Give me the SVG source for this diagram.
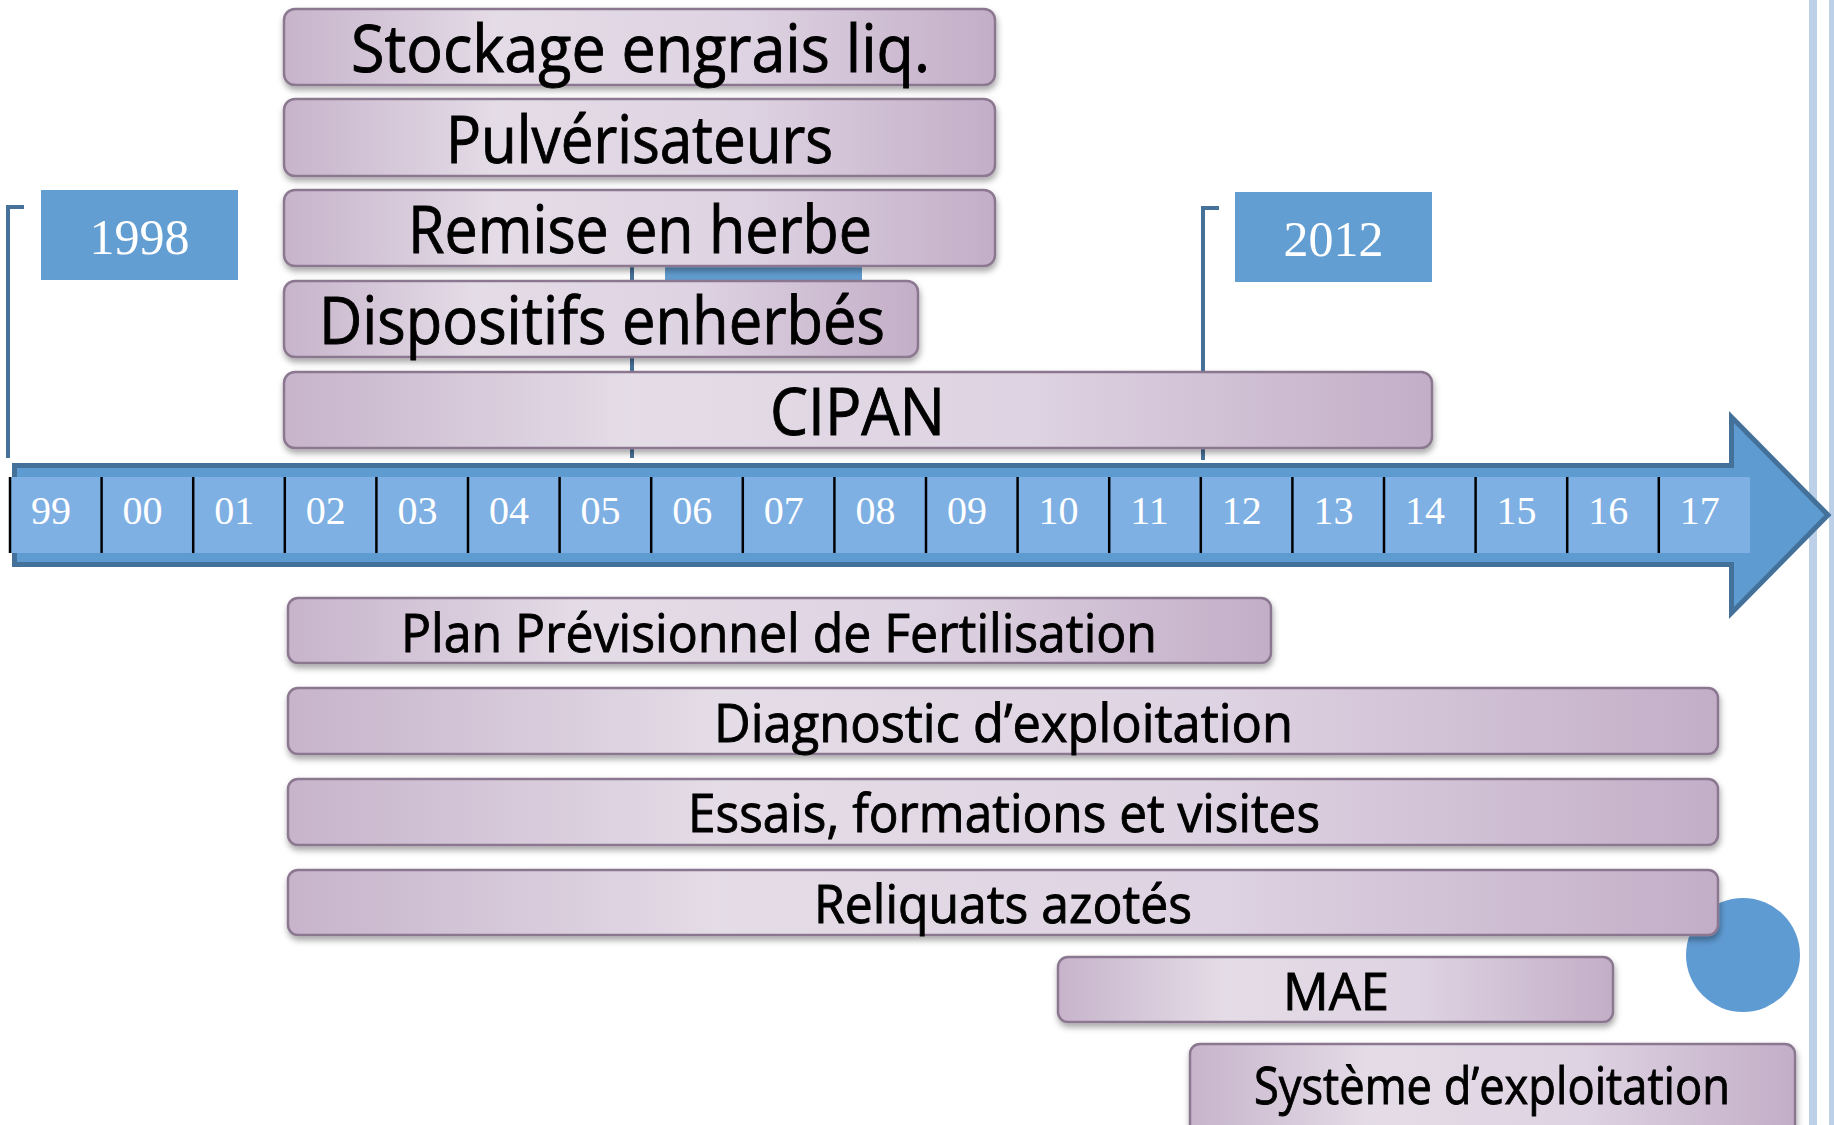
<svg xmlns="http://www.w3.org/2000/svg" width="1834" height="1125" viewBox="0 0 1834 1125">
<style>
.box{fill:url(#pg);stroke:#8B7890;stroke-width:2.5;filter:url(#sh)}
.lbl{font-family:"Open Sans","Noto Sans","Liberation Sans",sans-serif;fill:#000;stroke:#000;stroke-width:0.9;text-anchor:middle}
.yr{font-family:"Liberation Serif","DejaVu Serif",serif;fill:#fff;font-size:40px}
.big{font-family:"Liberation Serif","DejaVu Serif",serif;fill:#fff;font-size:50px;text-anchor:middle}
.brk{fill:none;stroke:#46729A;stroke-width:4}
.sep{stroke:#000;stroke-width:2.5}
.datebox{fill:#629ED2}
</style>
<defs>
<linearGradient id="pg" x1="0" y1="0" x2="1" y2="0">
<stop offset="0" stop-color="#C7B4CB"/>
<stop offset="0.3" stop-color="#E4DCE7"/>
<stop offset="0.65" stop-color="#DED3E2"/>
<stop offset="1" stop-color="#C3AEC7"/>
</linearGradient>
<filter id="sh" x="-5%" y="-20%" width="110%" height="150%">
<feDropShadow dx="1" dy="4" stdDeviation="3" flood-color="#000" flood-opacity="0.35"/>
</filter>
</defs>
<rect width="1834" height="1125" fill="#fff"/>
<g id="border">
<rect x="1809" y="0" width="8" height="1125" fill="#BCD0E8"/>
<rect x="1829" y="0" width="5" height="1125" fill="#BCD0E8"/>
</g>
<g id="connectors">
<path class="brk" d="M24,207 H8 V458"/>
<path class="brk" d="M1219,208 H1203 V460"/>
<path class="brk" d="M632,205 V458"/>
</g>
<g id="date-1998">
<rect class="datebox" x="41" y="190" width="197" height="90"/>
<text class="big" x="139.5" y="254">1998</text>
</g>
<g id="date-hidden">
<rect class="datebox" x="665" y="190" width="197" height="90"/>
</g>
<g id="date-2012">
<rect class="datebox" x="1235" y="192" width="197" height="90"/>
<text class="big" x="1333.5" y="256">2012</text>
</g>
<g id="circle">
<circle cx="1743" cy="955" r="57" fill="#5F9BD3"/>
</g>
<g id="timeline">
<polygon points="14.5,465.5 1731.5,465.5 1731.5,417 1828,515 1731.5,613 1731.5,564.5 14.5,564.5" fill="#5E9BD0" stroke="#44719A" stroke-width="5" stroke-linejoin="miter"/>
<rect x="10" y="477" width="1740" height="76" fill="#7EB0E4"/>
<g class="sep">
<line x1="10" y1="477" x2="10" y2="553"/><line x1="101.6" y1="477" x2="101.6" y2="553"/><line x1="193.2" y1="477" x2="193.2" y2="553"/><line x1="284.8" y1="477" x2="284.8" y2="553"/><line x1="376.4" y1="477" x2="376.4" y2="553"/><line x1="468" y1="477" x2="468" y2="553"/><line x1="559.6" y1="477" x2="559.6" y2="553"/><line x1="651.2" y1="477" x2="651.2" y2="553"/><line x1="742.8" y1="477" x2="742.8" y2="553"/><line x1="834.4" y1="477" x2="834.4" y2="553"/><line x1="926" y1="477" x2="926" y2="553"/><line x1="1017.6" y1="477" x2="1017.6" y2="553"/><line x1="1109.2" y1="477" x2="1109.2" y2="553"/><line x1="1200.8" y1="477" x2="1200.8" y2="553"/><line x1="1292.4" y1="477" x2="1292.4" y2="553"/><line x1="1384" y1="477" x2="1384" y2="553"/><line x1="1475.6" y1="477" x2="1475.6" y2="553"/><line x1="1567.2" y1="477" x2="1567.2" y2="553"/><line x1="1658.8" y1="477" x2="1658.8" y2="553"/>
</g>
<text class="yr" x="31" y="524">99</text><text class="yr" x="122.6" y="524">00</text><text class="yr" x="214.2" y="524">01</text><text class="yr" x="305.8" y="524">02</text><text class="yr" x="397.4" y="524">03</text><text class="yr" x="489" y="524">04</text><text class="yr" x="580.6" y="524">05</text><text class="yr" x="672.2" y="524">06</text><text class="yr" x="763.8" y="524">07</text><text class="yr" x="855.4" y="524">08</text><text class="yr" x="947" y="524">09</text><text class="yr" x="1038.6" y="524">10</text><text class="yr" x="1130.2" y="524">11</text><text class="yr" x="1221.8" y="524">12</text><text class="yr" x="1313.4" y="524">13</text><text class="yr" x="1405" y="524">14</text><text class="yr" x="1496.6" y="524">15</text><text class="yr" x="1588.2" y="524">16</text><text class="yr" x="1679.8" y="524">17</text>
</g>
<g id="stockage"><rect class="box" x="284" y="9" width="711" height="76" rx="11"/><text class="lbl" x="640.5" y="72" font-size="66" textLength="579" lengthAdjust="spacingAndGlyphs">Stockage engrais liq.</text></g>
<g id="pulverisateurs"><rect class="box" x="284" y="99" width="711" height="77" rx="11"/><text class="lbl" x="639.5" y="163" font-size="66" textLength="387" lengthAdjust="spacingAndGlyphs">Pulvérisateurs</text></g>
<g id="remise"><rect class="box" x="284" y="190" width="711" height="76" rx="11"/><text class="lbl" x="640" y="253" font-size="66" textLength="464" lengthAdjust="spacingAndGlyphs">Remise en herbe</text></g>
<g id="dispositifs"><rect class="box" x="284" y="281" width="634" height="76" rx="11"/><text class="lbl" x="602" y="344" font-size="66" textLength="566" lengthAdjust="spacingAndGlyphs">Dispositifs enherbés</text></g>
<g id="cipan"><rect class="box" x="284" y="372" width="1148" height="76" rx="11"/><text class="lbl" x="857.5" y="435" font-size="66" textLength="175" lengthAdjust="spacingAndGlyphs">CIPAN</text></g>
<g id="ppf"><rect class="box" x="288" y="598" width="983" height="65" rx="10"/><text class="lbl" x="779" y="652" font-size="53" textLength="756" lengthAdjust="spacingAndGlyphs">Plan Prévisionnel de Fertilisation</text></g>
<g id="diagnostic"><rect class="box" x="288" y="688" width="1430" height="66" rx="10"/><text class="lbl" x="1003.5" y="742" font-size="53" textLength="579" lengthAdjust="spacingAndGlyphs">Diagnostic d’exploitation</text></g>
<g id="essais"><rect class="box" x="288" y="779" width="1430" height="66" rx="10"/><text class="lbl" x="1004" y="832" font-size="53" textLength="632" lengthAdjust="spacingAndGlyphs">Essais, formations et visites</text></g>
<g id="reliquats"><rect class="box" x="288" y="870" width="1430" height="65" rx="10"/><text class="lbl" x="1003" y="923" font-size="53" textLength="378" lengthAdjust="spacingAndGlyphs">Reliquats azotés</text></g>
<g id="mae"><rect class="box" x="1058" y="957" width="555" height="65" rx="10"/><text class="lbl" x="1336" y="1010" font-size="52" textLength="106" lengthAdjust="spacingAndGlyphs">MAE</text></g>
<g id="systeme"><rect class="box" x="1190" y="1044" width="605" height="100" rx="10"/><text class="lbl" x="1492" y="1104" font-size="52" textLength="476" lengthAdjust="spacingAndGlyphs">Système d’exploitation</text></g>
</svg>
